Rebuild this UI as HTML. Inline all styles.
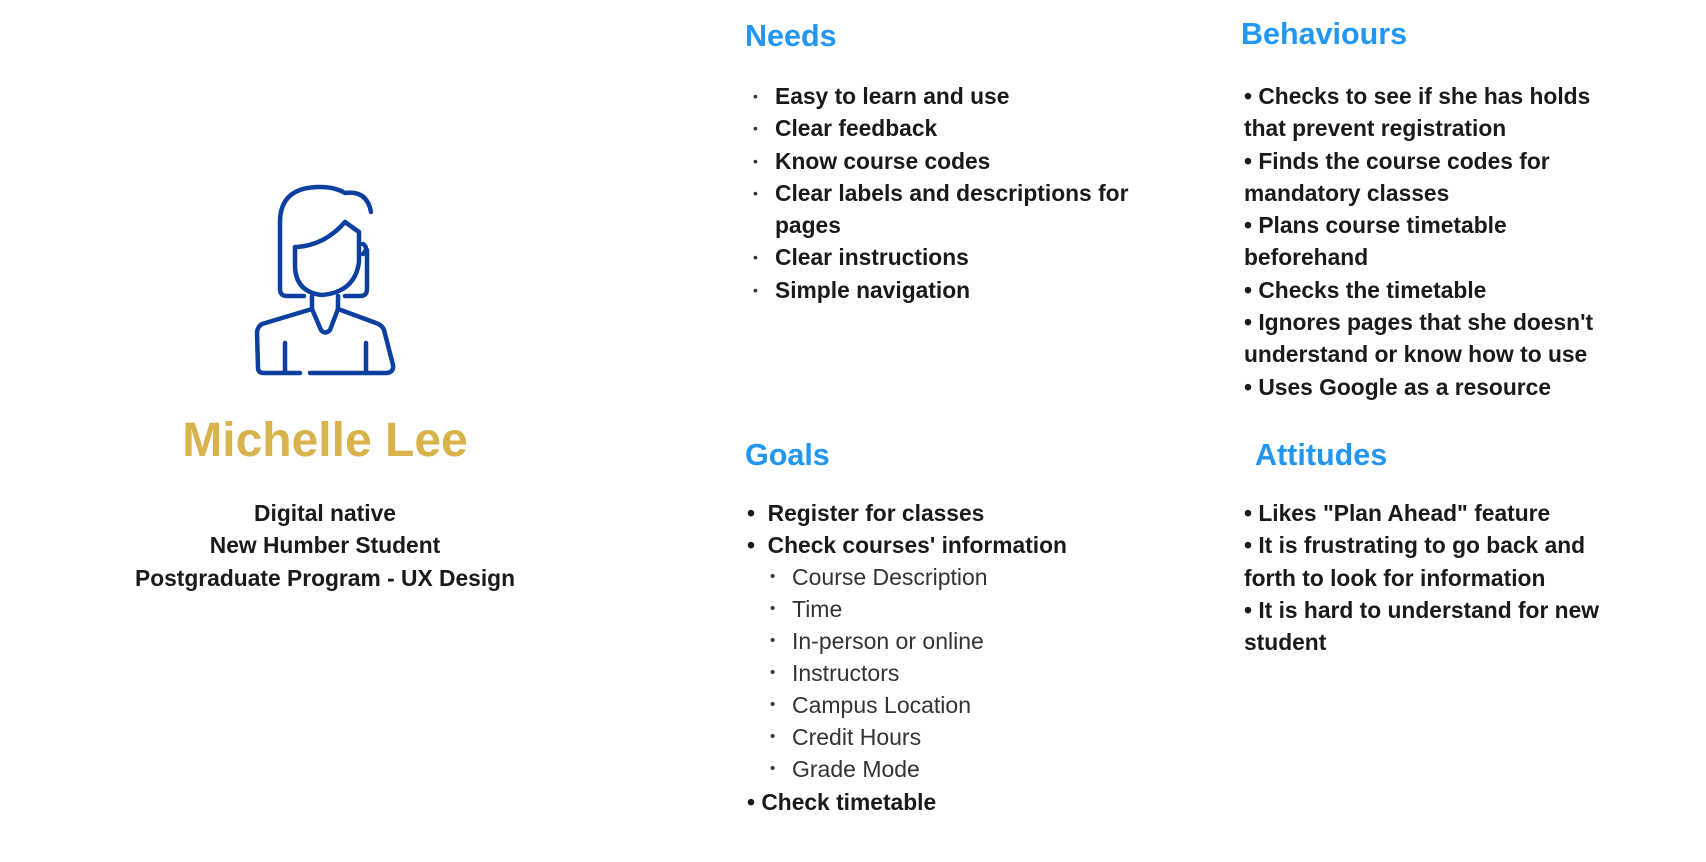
<!DOCTYPE html>
<html><head><meta charset="utf-8"><style>
html,body{margin:0;padding:0;background:#fff;}
body{width:1706px;height:862px;position:relative;overflow:hidden;font-family:"Liberation Sans",sans-serif;font-weight:bold;color:#1a1a1a;}
.h{position:absolute;color:#2196f3;font-size:30.5px;font-weight:bold;}
.t{position:absolute;font-size:22.8px;line-height:32.3px;white-space:nowrap;}
.n{font-weight:normal;color:#333;font-size:23px;}
.sb{display:inline-block;width:22px;font-size:15px;vertical-align:top;}
</style></head><body>
<svg width="1706" height="862" style="position:absolute;left:0;top:0" fill="none" stroke="#0d3fa0" stroke-width="4.5" stroke-linecap="round" stroke-linejoin="round">
<path d="M367 250 L367 289 Q367 296 360 296 L345 296"/>
<path d="M304 296 L287 296 Q280 296 280 289 L280 222 Q280 187 320 187 Q335 187 345 193 Q367 190 371 212"/>
<path d="M295 247 L295 265 Q295 292 322 295 Q355 292 359 262 L359 232 L345 222 Q325 245 297 247 Z"/>
<path d="M363 244 Q369 248 363 254"/>
<path d="M312 296 L312 309 L262 324 Q258 326 257 332 L258 368 Q258 373 264 373 L300 373"/>
<path d="M310 373 L387 373 Q394 372 393 365 L384 330 Q382 325 376 323 L338 309 L338 296"/>
<path d="M312 309 L321 330 Q325 335 330 330 L338 309"/>
<path d="M285 343 L285 372"/><path d="M366 343 L366 372"/>
</svg>
<div style="position:absolute;left:0;width:650px;top:413px;text-align:center;font-size:48px;color:#d8b24a;font-weight:bold;">Michelle Lee</div>
<div class="t" style="left:0;width:650px;top:497px;text-align:center;">Digital native<br>New Humber Student<br>Postgraduate Program - UX Design</div>

<div class="h" style="left:745px;top:19px;">Needs</div>
<div class="t" style="left:775px;top:80px;">Easy to learn and use<br>Clear feedback<br>Know course codes<br>Clear labels and descriptions for<br>pages<br>Clear instructions<br>Simple navigation</div>
<div class="t n" style="left:753px;top:80px;font-size:14px;color:#333;">•<br>•<br>•<br>•<br><br>•<br>•</div>

<div class="h" style="left:1241px;top:17px;">Behaviours</div>
<div class="t" style="left:1244px;top:80px;">• Checks to see if she has holds<br>that prevent registration<br>• Finds the course codes for<br>mandatory classes<br>• Plans course timetable<br>beforehand<br>• Checks the timetable<br>• Ignores pages that she doesn't<br>understand or know how to use<br>• Uses Google as a resource</div>

<div class="h" style="left:745px;top:438px;">Goals</div>
<div class="t" style="left:747px;top:497px;">•&nbsp; Register for classes<br>•&nbsp; Check courses' information</div>
<div class="t n" style="left:770px;top:561px;line-height:32px;"><span class="sb">•</span>Course Description<br><span class="sb">•</span>Time<br><span class="sb">•</span>In-person or online<br><span class="sb">•</span>Instructors<br><span class="sb">•</span>Campus Location<br><span class="sb">•</span>Credit Hours<br><span class="sb">•</span>Grade Mode</div>
<div class="t" style="left:747px;top:786px;">• Check timetable</div>

<div class="h" style="left:1255px;top:438px;">Attitudes</div>
<div class="t" style="left:1244px;top:497px;">• Likes "Plan Ahead" feature<br>• It is frustrating to go back and<br>forth to look for information<br>• It is hard to understand for new<br>student</div>
</body></html>
